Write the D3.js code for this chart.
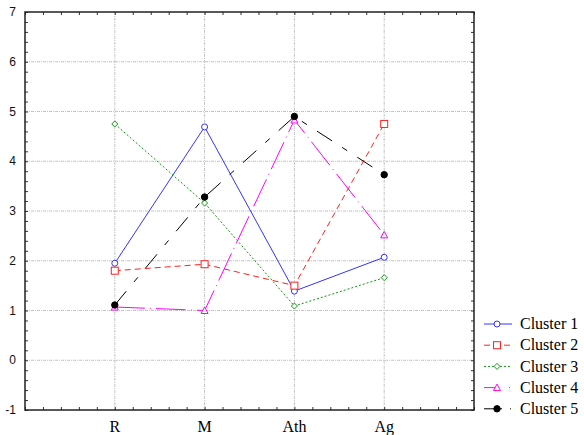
<!DOCTYPE html>
<html>
<head>
<meta charset="utf-8">
<script src="https://cdn.jsdelivr.net/npm/d3@7"></script>
<style>
  body { margin: 0; background: #fff; }
  svg { display: block; }
</style>
</head>
<body>
<div class="chart"></div>
<script>
var svgWidth = 584;
var svgHeight = 435;

// Data
var categories = ["R", "M", "Ath", "Ag"];
var seriesNames = ["Cluster 1", "Cluster 2", "Cluster 3", "Cluster 4", "Cluster 5"];
var cluster1 = [1.95, 4.69, 1.39, 2.07];
var cluster2 = [1.80, 1.93, 1.50, 4.75];
var cluster3 = [4.75, 3.16, 1.09, 1.66];
var cluster4 = [1.07, 1.00, 4.83, 2.52];
var cluster5 = [1.11, 3.28, 4.90, 3.73];
var yTicks = [-1, 0, 1, 2, 3, 4, 5, 6, 7];

// styles per series
var styles = [
  { color: "#3333ff", dash: null, marker: "circle" },
  { color: "#ff2020", dash: "6,4", marker: "square" },
  { color: "#119911", dash: "2,2", marker: "diamond" },
  { color: "#ff00ff", dash: "30,5,1,5", marker: "triangle" },
  { color: "#000000", dash: "18,12,6,12", marker: "dot" }
];

var series = [cluster1, cluster2, cluster3, cluster4, cluster5];

var plot = { left: 25, right: 474, top: 12, bottom: 410 };

var svg = d3.select(".chart")
  .append("svg")
  .attr("width", svgWidth)
  .attr("height", svgHeight);

var xScale = d3.scaleLinear().domain([0, 5]).range([plot.left, plot.right]);
var yScale = d3.scaleLinear().domain([-1, 7]).range([plot.bottom, plot.top]);

// grid lines
var grid = svg.append("g");
grid.selectAll("line.hg")
  .data(yTicks.slice(1, -1))
  .enter()
  .append("line")
  .attr("x1", plot.left).attr("x2", plot.right)
  .attr("y1", d => yScale(d)).attr("y2", d => yScale(d))
  .attr("stroke", "#c4c4c4")
  .attr("stroke-dasharray", "3,1,1,1");

grid.selectAll("line.vg")
  .data(categories)
  .enter()
  .append("line")
  .attr("x1", (d, i) => xScale(i + 1)).attr("x2", (d, i) => xScale(i + 1))
  .attr("y1", plot.top).attr("y2", plot.bottom)
  .attr("stroke", "#c4c4c4")
  .attr("stroke-dasharray", "3,1,1,1");

// axes with inward ticks
var leftAxis = d3.axisRight(yScale).ticks(32).tickSize(3).tickFormat("");
var rightAxis = d3.axisLeft(yScale).ticks(32).tickSize(3).tickFormat("");
var bottomAxis = d3.axisTop(xScale).ticks(20).tickSize(3).tickFormat("");
var topAxis = d3.axisBottom(xScale).ticks(20).tickSize(3).tickFormat("");

[
  [leftAxis, `translate(${plot.left},0)`],
  [rightAxis, `translate(${plot.right},0)`],
  [bottomAxis, `translate(0,${plot.bottom})`],
  [topAxis, `translate(0,${plot.top})`]
].forEach(function(a) {
  var g = svg.append("g").attr("transform", a[1]).call(a[0]);
  g.select(".domain").remove();
  g.selectAll(".tick line").attr("stroke", "#333");
});

// frame
svg.append("rect")
  .attr("x", plot.left).attr("y", plot.top)
  .attr("width", plot.right - plot.left)
  .attr("height", plot.bottom - plot.top)
  .attr("fill", "none")
  .attr("stroke", "#222")
  .attr("stroke-width", 1.5);

// y labels
svg.append("g").selectAll("text")
  .data(yTicks)
  .enter()
  .append("text")
  .attr("x", 16)
  .attr("y", d => yScale(d))
  .attr("dy", "0.35em")
  .attr("text-anchor", "end")
  .style("font-family", "Arial, 'Liberation Sans', sans-serif")
  .style("font-size", "12px")
  .attr("fill", "#111")
  .text(d => d);

// x labels
svg.append("g").selectAll("text")
  .data(categories)
  .enter()
  .append("text")
  .attr("x", (d, i) => xScale(i + 1))
  .attr("y", 432)
  .attr("text-anchor", "middle")
  .style("font-family", "'Times New Roman', 'Liberation Serif', serif")
  .style("font-size", "16px")
  .attr("fill", "#000")
  .text(d => d);

function drawMarker(g, type, color, x, y) {
  if (type === "circle") {
    g.append("circle").attr("cx", x).attr("cy", y).attr("r", 3)
      .attr("fill", "#fff").attr("stroke", color);
  } else if (type === "square") {
    g.append("rect").attr("x", x - 3.5).attr("y", y - 3.5).attr("width", 7).attr("height", 7)
      .attr("fill", "#fff").attr("stroke", color);
  } else if (type === "diamond") {
    g.append("path").attr("d", `M${x},${y - 3}L${x + 3},${y}L${x},${y + 3}L${x - 3},${y}Z`)
      .attr("fill", "#fff").attr("stroke", color);
  } else if (type === "triangle") {
    g.append("path").attr("d", `M${x},${y - 3.5}L${x + 3.5},${y + 3}L${x - 3.5},${y + 3}Z`)
      .attr("fill", "#fff").attr("stroke", color);
  } else {
    g.append("circle").attr("cx", x).attr("cy", y).attr("r", 3.2)
      .attr("fill", color).attr("stroke", color);
  }
}

// series lines
var line = d3.line()
  .x((d, i) => xScale(i + 1))
  .y(d => yScale(d));

series.forEach(function(values, k) {
  var st = styles[k];
  var g = svg.append("g");
  g.append("path")
    .datum(values)
    .attr("d", line)
    .attr("fill", "none")
    .attr("stroke", st.color)
    .attr("stroke-width", 1)
    .attr("stroke-dasharray", st.dash);
  values.forEach(function(v, i) {
    drawMarker(g, st.marker, st.color, xScale(i + 1), yScale(v));
  });
});

// legend
var legend = svg.append("g");
seriesNames.forEach(function(name, k) {
  var st = styles[k];
  var ly = 324 + k * 21.2;
  var g = legend.append("g");
  g.append("line")
    .attr("x1", 484).attr("x2", 512)
    .attr("y1", ly).attr("y2", ly)
    .attr("stroke", st.color)
    .attr("stroke-dasharray", k === 3 ? "14,11,1,3" : k === 4 ? "18,8,1,3" : st.dash);
  drawMarker(g, st.marker, st.color, 497, ly);
  g.append("text")
    .attr("x", 520)
    .attr("y", ly)
    .attr("dy", "0.33em")
    .style("font-family", "'Times New Roman', 'Liberation Serif', serif")
    .style("font-size", "16px")
    .attr("fill", "#000")
    .text(name);
});
</script>
</body>
</html>
